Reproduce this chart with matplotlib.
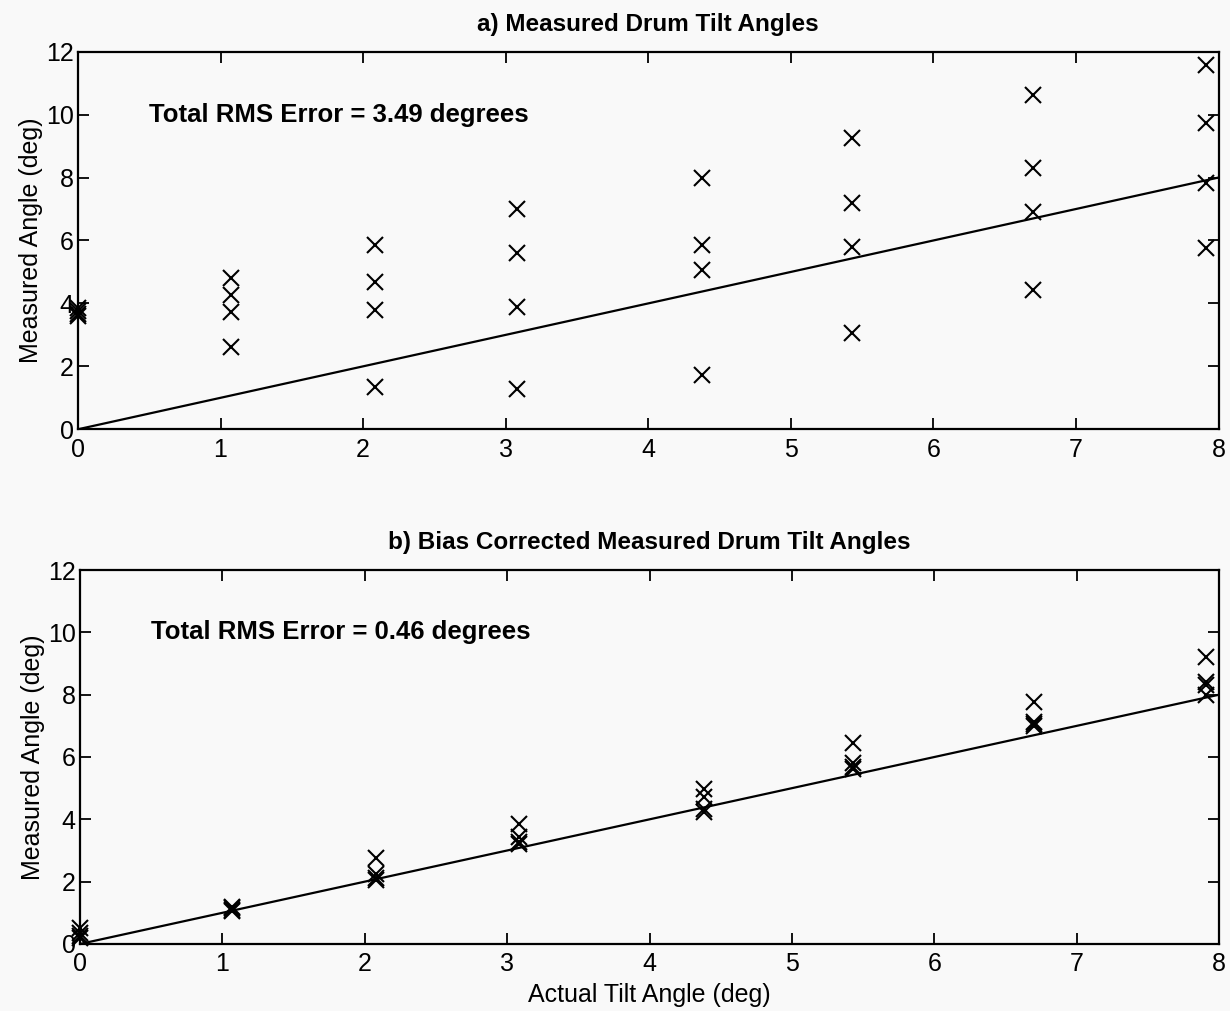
import numpy as np
import matplotlib
matplotlib.use("Agg")
from matplotlib import pyplot as plt

plt.rcParams['font.family'] = ['Liberation Sans', 'DejaVu Sans']

# actual tilt angles (4 measurements per angle)
actual = [0.0, 1.07, 2.08, 3.08, 4.38, 5.43, 6.70, 7.91]

# a) raw measured angles
meas_raw = [
    [3.85, 3.75, 3.65, 3.6],
    [4.8, 4.27, 3.73, 2.61],
    [5.86, 4.69, 3.79, 1.35],
    [6.99, 5.59, 3.89, 1.29],
    [7.98, 5.86, 5.06, 1.72],
    [9.25, 7.18, 5.80, 3.05],
    [10.63, 8.30, 6.92, 4.42],
    [11.58, 9.73, 7.82, 5.75],
]

# b) bias corrected measured angles
meas_corr = [
    [0.5, 0.35, 0.25, 0.2],
    [1.2, 1.15, 1.1, 1.05],
    [2.75, 2.25, 2.12, 2.05],
    [3.85, 3.42, 3.28, 3.2],
    [4.98, 4.73, 4.32, 4.25],
    [6.44, 5.8, 5.68, 5.62],
    [7.77, 7.13, 7.05, 7.0],
    [9.22, 8.42, 8.3, 8.0],
]

titles = ["a) Measured Drum Tilt Angles", "b) Bias Corrected Measured Drum Tilt Angles"]
rms = ["Total RMS Error = 3.49 degrees", "Total RMS Error = 0.46 degrees"]
ref_line = [0, 8]

fig = plt.figure(figsize=(12.3, 10.11), dpi=100, facecolor='#f9f9f9')
ax1 = fig.add_axes([0.0634, 0.5754, 0.9273, 0.3735])
ax2 = fig.add_axes([0.0650, 0.0663, 0.9263, 0.3699])

for ax, meas, title, txt in zip([ax1, ax2], [meas_raw, meas_corr], titles, rms):
    ax.set_facecolor('#f9f9f9')
    xs = np.repeat(actual, 4)
    ys = np.array(meas).ravel()
    ax.plot(xs, ys, 'x', color='black', markersize=12, mew=1.5, clip_on=False, zorder=3)
    ax.plot(ref_line, ref_line, '-', color='black', lw=1.6)
    ax.set_xlim(0, 8)
    ax.set_ylim(0, 12)
    ax.set_xticks(range(0, 9))
    ax.set_yticks(range(0, 13, 2))
    ax.tick_params(direction='in', length=8, width=1.3, top=True, right=True,
                   labelsize=18)
    ax.tick_params(axis='x', pad=6)
    ax.tick_params(axis='y', pad=3)
    for sp in ax.spines.values():
        sp.set_linewidth(1.6)
    ax.set_title(title, fontsize=17.5, fontweight='bold', pad=15)
    ax.set_ylabel("Measured Angle (deg)", fontsize=18, labelpad=2)
    ax.text(0.5, 10.0, txt, fontsize=18.5, fontweight='bold', va='center', ha='left')

ax2.set_xlabel("Actual Tilt Angle (deg)", fontsize=18, labelpad=5)

fig.savefig("out.png", dpi=100, facecolor=fig.get_facecolor())
